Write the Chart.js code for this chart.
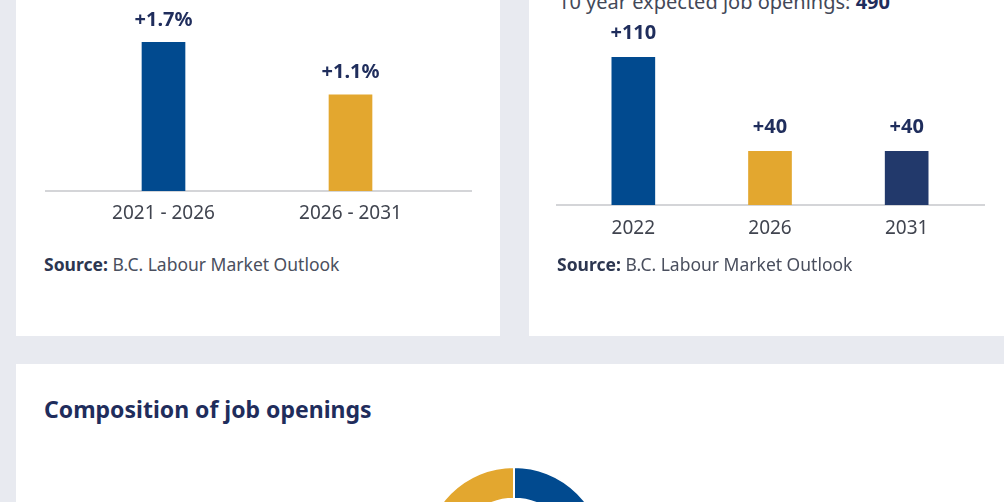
<!DOCTYPE html>
<html>
<head>
<meta charset="utf-8">
<script src="https://cdn.jsdelivr.net/npm/chart.js@4.4.1/dist/chart.umd.min.js"></script>
<style>
    html, body {
        margin: 0;
        padding: 0;
        width: 1004px;
        height: 502px;
        overflow: hidden;
        background: #e8eaf0;
        font-family: "Noto Sans", sans-serif;
    }
    .card {
        position: absolute;
        background: #ffffff;
    }
    .abs {
        position: absolute;
        white-space: nowrap;
    }
    .source {
        font-size: 17.5px;
        line-height: 20px;
        color: #4a4f5e;
    }
    .source b {
        color: #2c3650;
    }
    .subtitle {
        font-size: 20px;
        line-height: 1;
        color: #434858;
    }
    .subtitle b {
        color: #1f2d5c;
    }
    .title {
        font-size: 23px;
        line-height: 24px;
        font-weight: bold;
        color: #1f2d5c;
    }
</style>
</head>
<body>

<div class="card" style="left:16px; top:-60px; width:484px; height:396px;"></div>
<div class="card" style="left:529px; top:-60px; width:500px; height:396px;"></div>
<div class="card" style="left:16px; top:364px; width:1010px; height:200px;"></div>

<div class="abs subtitle" style="left:558px; top:-8px;">10 year expected job openings: <b>490</b></div>

<canvas id="growthChart" class="abs" style="left:16px; top:0px;"></canvas>
<canvas id="openingsChart" class="abs" style="left:529px; top:0px;"></canvas>

<div class="abs source" style="left:44px; top:254px;"><b>Source:</b> B.C. Labour Market Outlook</div>
<div class="abs source" style="left:557px; top:254px;"><b>Source:</b> B.C. Labour Market Outlook</div>

<div class="abs title" style="left:44px; top:397px;">Composition of job openings</div>
<canvas id="compositionChart" class="abs" style="left:414px; top:457px;"></canvas>

<script>
// Employment growth (annual %)
const growthPeriods = ['2021 - 2026', '2026 - 2031'];
const growthValues = [1.7, 1.1];

// Job openings by year
const openingYears = ['2022', '2026', '2031'];
const openingValues = [110, 40, 40];

// Composition of job openings (share, %)
const compositionLabels = ['Replacement of retiring workers', 'New jobs due to economic growth'];
const compositionValues = [75, 25];

const colors = {
    blue: '#014a8f',
    yellow: '#e3a72f',
    navy: '#22396b',
    label: '#1f2d5c',
    tick: '#40444f',
    axis: '#c6c7cb'
};

Chart.defaults.font.family = '"Noto Sans", sans-serif';
Chart.defaults.animation = false;

// value labels drawn above each bar
const barValueLabels = {
    id: 'barValueLabels',
    afterDatasetsDraw(chart, args, opts) {
        const ctx = chart.ctx;
        const meta = chart.getDatasetMeta(0);
        ctx.save();
        ctx.font = 'bold 20px "Noto Sans", sans-serif';
        ctx.fillStyle = colors.label;
        ctx.textAlign = 'center';
        ctx.textBaseline = 'middle';
        meta.data.forEach((bar, i) => {
            const v = chart.data.datasets[0].data[i];
            ctx.fillText(opts.format(v), bar.x, bar.y - opts.offset);
        });
        ctx.restore();
    }
};

// baseline runs a bit past the category area on both sides
const baseline = {
    id: 'baseline',
    beforeDatasetsDraw(chart, args, opts) {
        const ctx = chart.ctx;
        const area = chart.chartArea;
        ctx.save();
        ctx.strokeStyle = colors.axis;
        ctx.lineWidth = 1.5;
        ctx.beginPath();
        ctx.moveTo(area.left - opts.extendLeft, area.bottom);
        ctx.lineTo(area.right + opts.extendRight, area.bottom);
        ctx.stroke();
        ctx.restore();
    }
};

function barOptions(maxValue, padding, valueFormat, labelOffset, extend, tickPad) {
    return {
        responsive: false,
        layout: { padding: padding },
        plugins: {
            legend: { display: false },
            tooltip: { enabled: false },
            barValueLabels: { format: valueFormat, offset: labelOffset },
            baseline: { extendLeft: extend[0], extendRight: extend[1] }
        },
        scales: {
            x: {
                grid: { display: false, drawTicks: false },
                border: { display: false },
                ticks: {
                    color: colors.tick,
                    font: { size: 19 },
                    padding: tickPad
                },
                afterFit: (scale) => { scale.height = 49; }
            },
            y: {
                display: false,
                min: 0,
                max: maxValue
            }
        }
    };
}

function sizeCanvas(id, w, h) {
    const el = document.getElementById(id);
    el.width = w;
    el.height = h;
    el.style.width = w + 'px';
    el.style.height = h + 'px';
    return el;
}

new Chart(sizeCanvas('growthChart', 484, 240), {
    type: 'bar',
    data: {
        labels: growthPeriods,
        datasets: [{
            data: growthValues,
            backgroundColor: [colors.blue, colors.yellow],
            barThickness: 43
        }]
    },
    options: barOptions(2, { left: 54, right: 56, top: 16 },
        v => '+' + v.toFixed(1) + '%', 22, [25, 28], 11),
    plugins: [baseline, barValueLabels]
});

new Chart(sizeCanvas('openingsChart', 475, 254), {
    type: 'bar',
    data: {
        labels: openingYears,
        datasets: [{
            data: openingValues,
            backgroundColor: [colors.blue, colors.yellow, colors.navy],
            barThickness: 43
        }]
    },
    options: barOptions(140, { left: 36, right: 29, top: 17 },
        v => '+' + v, 24, [9, 10], 12),
    plugins: [baseline, barValueLabels]
});

new Chart(sizeCanvas('compositionChart', 200, 200), {
    type: 'doughnut',
    data: {
        labels: compositionLabels,
        datasets: [{
            data: compositionValues,
            backgroundColor: [colors.blue, colors.yellow],
            borderColor: '#ffffff',
            borderWidth: 2
        }]
    },
    options: {
        responsive: false,
        radius: 90,
        cutout: 64,
        plugins: {
            legend: { display: false },
            tooltip: { enabled: false }
        }
    }
});
</script>
</body>
</html>
